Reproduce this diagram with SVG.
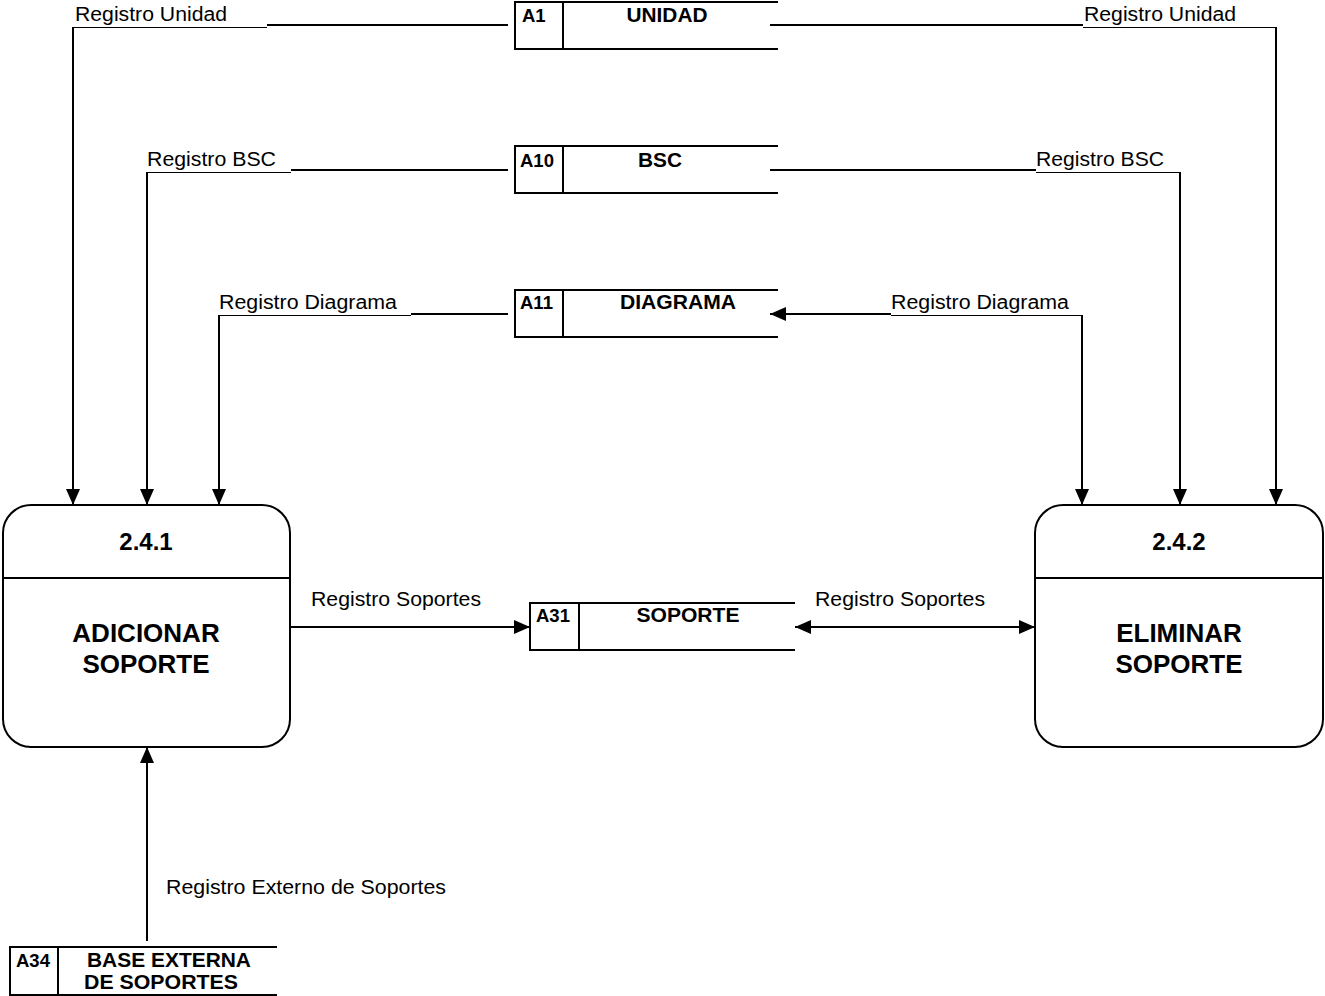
<svg xmlns="http://www.w3.org/2000/svg" width="1325" height="996" viewBox="0 0 1325 996">
<style>
.lbl{font-family:"Liberation Sans",Arial,sans-serif;font-size:19.5px;fill:#000}
.sid{font-family:"Liberation Sans",Arial,sans-serif;font-size:18.5px;font-weight:bold;fill:#000}
.snm{font-family:"Liberation Sans",Arial,sans-serif;font-size:19.5px;font-weight:bold;fill:#000;text-anchor:middle}
.pid{font-family:"Liberation Sans",Arial,sans-serif;font-size:24px;font-weight:bold;fill:#000;text-anchor:middle}
.pnm{font-family:"Liberation Sans",Arial,sans-serif;font-size:26px;font-weight:bold;fill:#000;text-anchor:middle}
.st{fill:none;stroke:#000;stroke-width:2}
.proc{fill:#fff;stroke:#000;stroke-width:2}
.c{fill:none;stroke:#000;stroke-width:2}
.t{fill:none;stroke:#000;stroke-width:1}
</style>
<defs>
<marker id="ar" markerUnits="userSpaceOnUse" markerWidth="16" markerHeight="14" refX="16" refY="7" orient="auto-start-reverse">
<path d="M0,0 L16,7 L0,14 z" fill="#000"/>
</marker>
</defs>
<rect width="1325" height="996" fill="#fff"/>

<g id="connectors">
<line class="c" x1="508" y1="25" x2="267" y2="25"/>
<line class="t" x1="73" y1="27.5" x2="267" y2="27.5"/>
<polyline class="c" points="73,27 73,505" marker-end="url(#ar)"/>
<text class="lbl" x="75" y="21" textLength="152" lengthAdjust="spacingAndGlyphs">Registro Unidad</text>

<line class="c" x1="770" y1="25" x2="1083" y2="25"/>
<line class="t" x1="1083" y1="27.5" x2="1276" y2="27.5"/>
<polyline class="c" points="1276,27 1276,505" marker-end="url(#ar)"/>
<text class="lbl" x="1084" y="21" textLength="152" lengthAdjust="spacingAndGlyphs">Registro Unidad</text>

<line class="c" x1="508" y1="170" x2="291" y2="170"/>
<line class="t" x1="147" y1="172.5" x2="291" y2="172.5"/>
<polyline class="c" points="147,172 147,505" marker-end="url(#ar)"/>
<text class="lbl" x="147" y="166" textLength="129" lengthAdjust="spacingAndGlyphs">Registro BSC</text>

<line class="c" x1="770" y1="170" x2="1036" y2="170"/>
<line class="t" x1="1036" y1="172.5" x2="1180" y2="172.5"/>
<polyline class="c" points="1180,172 1180,505" marker-end="url(#ar)"/>
<text class="lbl" x="1036" y="166" textLength="128" lengthAdjust="spacingAndGlyphs">Registro BSC</text>

<line class="c" x1="508" y1="314" x2="411" y2="314"/>
<line class="t" x1="219" y1="315.5" x2="411" y2="315.5"/>
<polyline class="c" points="219,315 219,505" marker-end="url(#ar)"/>
<text class="lbl" x="219" y="309" textLength="178" lengthAdjust="spacingAndGlyphs">Registro Diagrama</text>

<line class="c" x1="770" y1="314" x2="891" y2="314" marker-start="url(#ar)"/>
<line class="t" x1="891" y1="315.5" x2="1082" y2="315.5"/>
<polyline class="c" points="1082,315 1082,505" marker-end="url(#ar)"/>
<text class="lbl" x="891" y="309" textLength="178" lengthAdjust="spacingAndGlyphs">Registro Diagrama</text>

<line class="c" x1="290" y1="627" x2="530" y2="627" marker-end="url(#ar)"/>
<text class="lbl" x="311" y="606" textLength="170" lengthAdjust="spacingAndGlyphs">Registro Soportes</text>

<line class="c" x1="795" y1="627" x2="1035" y2="627" marker-start="url(#ar)" marker-end="url(#ar)"/>
<text class="lbl" x="815" y="606" textLength="170" lengthAdjust="spacingAndGlyphs">Registro Soportes</text>

<line class="c" x1="147" y1="941" x2="147" y2="747" marker-end="url(#ar)"/>
<text class="lbl" x="166" y="894" textLength="280" lengthAdjust="spacingAndGlyphs">Registro Externo de Soportes</text>
</g>

<g id="store-A1">
<path class="st" d="M778,2 H515 V49 H778 M563,2 V49"/>
<text class="sid" x="522" y="22">A1</text>
<text class="snm" x="667" y="22" textLength="81" lengthAdjust="spacingAndGlyphs">UNIDAD</text>
</g>
<g id="store-A10">
<path class="st" d="M778,146 H515 V193 H778 M563,146 V193"/>
<text class="sid" x="520" y="167">A10</text>
<text class="snm" x="660" y="167" textLength="44" lengthAdjust="spacingAndGlyphs">BSC</text>
</g>
<g id="store-A11">
<path class="st" d="M778,290 H515 V337 H778 M563,290 V337"/>
<text class="sid" x="520" y="309">A11</text>
<text class="snm" x="678" y="309" textLength="116" lengthAdjust="spacingAndGlyphs">DIAGRAMA</text>
</g>
<g id="store-A31">
<path class="st" d="M795,603 H530 V650 H795 M579,603 V650"/>
<text class="sid" x="536" y="622">A31</text>
<text class="snm" x="688" y="622" textLength="103" lengthAdjust="spacingAndGlyphs">SOPORTE</text>
</g>
<g id="store-A34">
<path class="st" d="M277,947 H10 V995 H277 M58,947 V995"/>
<text class="sid" x="16" y="967">A34</text>
<text class="snm" x="169" y="967" textLength="164" lengthAdjust="spacingAndGlyphs">BASE EXTERNA</text>
<text class="snm" x="161" y="989" textLength="154" lengthAdjust="spacingAndGlyphs">DE SOPORTES</text>
</g>

<g id="process-2.4.1">
<rect class="proc" x="3" y="505" width="287" height="242" rx="28" ry="28"/>
<line class="c" x1="3" y1="578" x2="290" y2="578"/>
<text class="pid" x="146" y="550">2.4.1</text>
<text class="pnm" x="146" y="642">ADICIONAR</text>
<text class="pnm" x="146" y="673">SOPORTE</text>
</g>
<g id="process-2.4.2">
<rect class="proc" x="1035" y="505" width="288" height="242" rx="28" ry="28"/>
<line class="c" x1="1035" y1="578" x2="1323" y2="578"/>
<text class="pid" x="1179" y="550">2.4.2</text>
<text class="pnm" x="1179" y="642">ELIMINAR</text>
<text class="pnm" x="1179" y="673">SOPORTE</text>
</g>
</svg>
